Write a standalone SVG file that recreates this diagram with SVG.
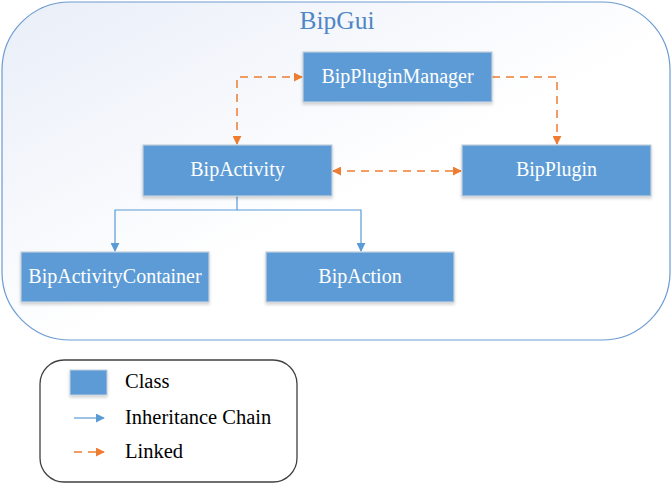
<svg xmlns="http://www.w3.org/2000/svg" width="672" height="490" viewBox="0 0 672 490">
<defs>
<linearGradient id="bg" x1="0" y1="0" x2="1" y2="1">
<stop offset="0" stop-color="#e9eef8"/>
<stop offset="0.55" stop-color="#ffffff"/>
<stop offset="1" stop-color="#ffffff"/>
</linearGradient>
<filter id="sh" x="-10%" y="-10%" width="130%" height="140%">
<feDropShadow dx="0" dy="2" stdDeviation="1.5" flood-color="#000" flood-opacity="0.18"/>
</filter>
<marker id="ao" viewBox="0 0 10 10" refX="9" refY="5" markerWidth="9" markerHeight="9" markerUnits="userSpaceOnUse" orient="auto-start-reverse">
<path d="M0,0 L10,5 L0,10 z" fill="#ED7D31"/>
</marker>
<marker id="ab" viewBox="0 0 10 10" refX="9" refY="5" markerWidth="9" markerHeight="9" markerUnits="userSpaceOnUse" orient="auto">
<path d="M0,0 L10,5 L0,10 z" fill="#5B9BD5"/>
</marker>
</defs>
<style>
.box{fill:#5B9BD5;stroke:#c3cfdc;stroke-width:1.2;filter:url(#sh)}
.lbl{font-family:"Liberation Serif","DejaVu Serif",serif;font-size:20px;fill:#ffffff;text-anchor:middle}
.leg{font-family:"Liberation Serif","DejaVu Serif",serif;font-size:20.5px;fill:#000000}
.dash{fill:none;stroke:#ED7D31;stroke-width:1.5;stroke-dasharray:8,6}
.inh{fill:none;stroke:#5B9BD5;stroke-width:1.2}
</style>
<rect id="container" x="2" y="2" width="668" height="338" rx="68" ry="68" fill="url(#bg)" stroke="#6c9bd0" stroke-width="1.2"/>
<text x="337" y="29" font-family="Liberation Serif, DejaVu Serif, serif" font-size="25.5" fill="#4f86c6" text-anchor="middle">BipGui</text>
<g id="connectors">
<path class="dash" d="M237,144 V77 H302" marker-start="url(#ao)" marker-end="url(#ao)"/>
<path class="dash" d="M492,77 H557 V144" marker-end="url(#ao)"/>
<path class="dash" d="M333,171 H461" marker-start="url(#ao)" marker-end="url(#ao)"/>
<path class="inh" d="M237,196 V210 H115 V251" marker-end="url(#ab)"/>
<path class="inh" d="M237,210 H361 V251" marker-end="url(#ab)"/>
</g>
<g id="BipPluginManager">
<rect class="box" x="303" y="52" width="189" height="50"/>
<text class="lbl" x="397.5" y="83">BipPluginManager</text>
</g>
<g id="BipActivity">
<rect class="box" x="143" y="145" width="189" height="51"/>
<text class="lbl" x="237.5" y="176">BipActivity</text>
</g>
<g id="BipPlugin">
<rect class="box" x="462" y="145" width="189" height="51"/>
<text class="lbl" x="556.5" y="176">BipPlugin</text>
</g>
<g id="BipActivityContainer">
<rect class="box" x="21" y="252" width="188" height="50"/>
<text class="lbl" x="115" y="283">BipActivityContainer</text>
</g>
<g id="BipAction">
<rect class="box" x="266" y="252" width="188" height="50"/>
<text class="lbl" x="360" y="283">BipAction</text>
</g>
<g id="legend">
<rect x="40" y="360" width="257" height="122" rx="24" ry="24" fill="#ffffff" stroke="#404040" stroke-width="1.3"/>
<rect x="70" y="370" width="37" height="25" fill="#5B9BD5" stroke="#c3cfdc" stroke-width="1" filter="url(#sh)"/>
<text class="leg" x="125" y="388">Class</text>
<path class="inh" d="M74,418 H104" marker-end="url(#ab)"/>
<text class="leg" x="125" y="424">Inheritance Chain</text>
<path class="dash" d="M74,452 H104" marker-end="url(#ao)"/>
<text class="leg" x="125" y="458">Linked</text>
</g>
</svg>
